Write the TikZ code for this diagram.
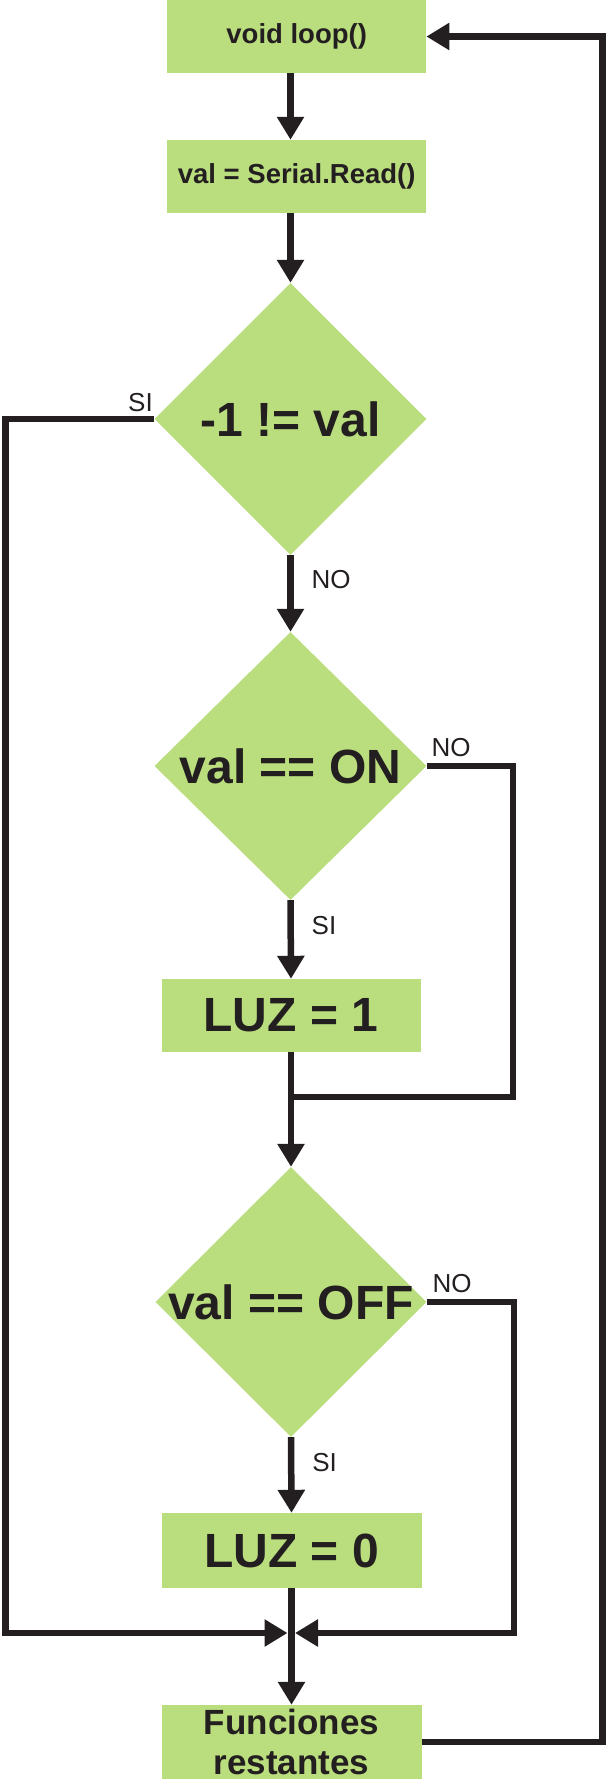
\documentclass[tikz,border=0pt]{standalone}
\usepackage{fontspec}
\setmainfont{Liberation Sans}
\newfontfamily\nf{Liberation Sans}
\usetikzlibrary{shapes.geometric,arrows.meta}
\definecolor{gfill}{RGB}{186,221,126}
\definecolor{ink}{RGB}{35,31,32}
\tikzset{
  box/.style={rectangle, fill=gfill, inner sep=0pt, text=ink, align=center},
  dec/.style={diamond, fill=gfill, inner sep=0pt, text=ink},
  lab/.style={text=ink, inner sep=0pt, font={\nf\fontsize{26}{30}\selectfont}},
  flow/.style={draw=ink, line width=6.5pt, line join=miter},
  arr/.style={flow, -{Triangle[length=23pt,width=26pt]}},
  bf/.style={font={\nf\bfseries\fontsize{#1}{#1}\selectfont}}
}
\begin{document}
\begin{tikzpicture}[x=1pt,y=-1pt]
\useasboundingbox (0,0) rectangle (607,1779);
% nodes
\node[box, bf=27.5, minimum width=259pt, minimum height=73pt] (loop) at (296.7,36.5) {void loop()};
\node[box, bf=27.5, minimum width=259pt, minimum height=73pt] (read) at (296.7,176.5) {val = Serial.Read()};
\node[dec, bf=48, minimum width=272pt, minimum height=272pt] (d1) at (290.5,419) {\makebox[0pt]{-1 != val}};
\node[dec, bf=48, minimum width=272pt, minimum height=268pt] (d2) at (290.5,766) {\makebox[0pt]{val == ON}};
\node[box, bf=48, minimum width=259pt, minimum height=73pt] (luz1) at (291,1015.5) {LUZ = 1};
\node[dec, bf=48, minimum width=271pt, minimum height=270pt] (d3) at (291,1302) {\makebox[0pt]{val == OFF}};
\node[box, bf=48, minimum width=260pt, minimum height=75pt] (luz0) at (291.5,1550.5) {LUZ = 0};
\node[box, font={\nf\bfseries\fontsize{35}{40}\selectfont}, minimum width=260pt, minimum height=74pt] (fun) at (291.5,1742) {Funciones\\restantes};
% labels
\node[lab] (si1) at (140.5,402.5) {SI};
\node[lab] (no1) at (331,580) {NO};
\node[lab] (no2) at (451,747.5) {NO};
\node[lab] (si2) at (324,926) {SI};
\node[lab] (no3) at (452,1283.5) {NO};
\node[lab] (si3) at (324.6,1463) {SI};
% helper coordinates
\coordinate (lrail) at (5.5,1633);
\coordinate (mL) at (287.5,1633);
\coordinate (mR) at (295,1633);
\coordinate (c2) at (514,1633);
\coordinate (c1) at (513,1097);
\coordinate (j1) at (291,1097);
\coordinate (rr) at (602.5,36.5);
% connectors
\draw[arr] (d1.north |- loop.south) -- (d1.north |- read.north);
\draw[arr] (d1.north |- read.south) -- (d1.north);
\draw[arr] (d1.south) -- (d2.north);
\draw[arr] (d2.south) -- (luz1.north);
\draw[arr] (luz1.south) -- (d3.north);
\draw[flow] (d2.east) -| (c1) -- (j1);
\draw[arr] (d3.south) -- (luz0.north);
\draw[arr] (luz0.south) -- (fun.north);
\draw[arr] (d1.west) -| (lrail) -- (mL);
\draw[arr] (d3.east) -| (c2) -- (mR);
\draw[arr] (fun.east) -| (rr) -- (loop.east);
\end{tikzpicture}
\end{document}
